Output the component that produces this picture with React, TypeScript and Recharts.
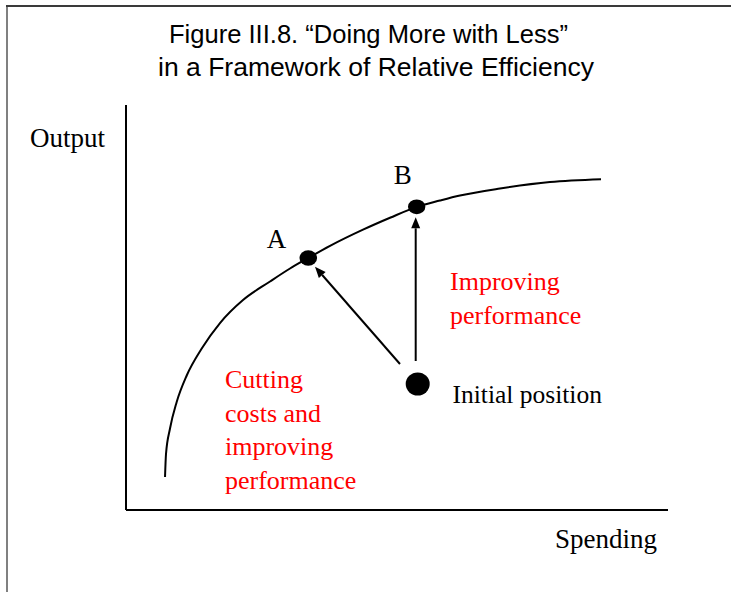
import React from 'react';
import { ComposedChart, Line, XAxis, YAxis, ReferenceLine, ReferenceDot } from 'recharts';

// Frontier curve (Spending -> Output), conceptual 0-100 units
const curveX = [7.2, 7.38, 8.12, 9.35, 11.2, 13.97, 17.34, 21.59, 26.57, 30.26, 33.63, 37.64, 43.73, 48.71, 53.63, 57.93, 61.62, 69.0, 78.23, 87.64];
const curveY = [8.15, 13.83, 20.12, 26.67, 33.21, 39.88, 46.17, 51.85, 56.42, 59.63, 62.22, 65.21, 69.21, 72.15, 74.85, 76.42, 77.65, 79.38, 80.99, 81.68];

// Marked positions
const pointNames = ['A', 'B', 'Initial'];
const pointX = [33.63, 53.63, 53.82];
const pointY = [62.22, 74.85, 31.11];

// Arrows: from (x, y) to (x, y)
const arrowFromX = [50.55, 53.45];
const arrowFromY = [36.05, 36.79];
const arrowToX = [34.87, 53.45];
const arrowToY = [60.07, 72.27];

const titleLines = ['Figure III.8. \u201cDoing More with Less\u201d', 'in a Framework of Relative Efficiency'];
const yAxisLabel = 'Output';
const xAxisLabel = 'Spending';
const redLabelLeft = ['Cutting', 'costs and', 'improving', 'performance'];
const redLabelRight = ['Improving', 'performance'];
const initialLabel = 'Initial position';

const curveData = curveX.map((x, i) => ({ x, y: curveY[i] }));

const dotStyle: Record<string, { rx: number; ry: number; label?: string; dx?: number; dy?: number }> = {
  A: { rx: 8.8, ry: 7.8, label: 'A', dx: -22, dy: -10 },
  B: { rx: 8.7, ry: 7.4, label: 'B', dx: -5, dy: -22.5 },
  Initial: { rx: 12, ry: 11.5 },
};

const SERIF = '"Liberation Serif", "Times New Roman", Times, serif';
const SANS = '"Liberation Sans", Arial, Helvetica, sans-serif';

const arrowShape = (p: any) => {
  const { x1, y1, x2, y2 } = p;
  const dx = x2 - x1;
  const dy = y2 - y1;
  const L = Math.hypot(dx, dy) || 1;
  const ux = dx / L;
  const uy = dy / L;
  const hl = 11;
  const hw = 4.5;
  const bx = x2 - ux * hl;
  const by = y2 - uy * hl;
  const px = -uy;
  const py = ux;
  return (
    <g>
      <line x1={x1} y1={y1} x2={bx} y2={by} stroke="#000" strokeWidth={2} />
      <polygon
        points={`${x2},${y2} ${bx + px * hw},${by + py * hw} ${bx - px * hw},${by - py * hw}`}
        fill="#000"
      />
    </g>
  );
};

const makeDotShape = (name: string) => (p: any) => {
  const s = dotStyle[name];
  const { cx, cy } = p;
  return (
    <g>
      <ellipse cx={cx} cy={cy} rx={s.rx} ry={s.ry} fill="#000" />
      {s.label ? (
        <text
          x={cx + (s.dx || 0)}
          y={cy + (s.dy || 0)}
          textAnchor="end"
          fontFamily={SERIF}
          fontSize={27}
          fill="#000"
        >
          {s.label}
        </text>
      ) : null}
    </g>
  );
};

const lineShape = (p: any) => (
  <line x1={p.x1} y1={p.y1} x2={p.x2} y2={p.y2} stroke="#000" strokeWidth={2} />
);

export default function App() {
  return (
    <div
      style={{
        position: 'absolute',
        left: 0,
        top: 0,
        width: 731,
        height: 592,
        overflow: 'hidden',
        background: '#fff',
      }}
    >
      <div style={{ position: 'absolute', left: 6, top: 5, width: 2, height: 600, background: '#808080' }} />
      <div style={{ position: 'absolute', left: 6, top: 5, width: 740, height: 2, background: '#3a3a3a' }} />
      <div style={{ position: 'absolute', left: 0, top: 0 }}>
        <ComposedChart width={731} height={592} margin={{ top: 105, right: 63, bottom: 82, left: 126 }}>
          <XAxis type="number" dataKey="x" domain={[0, 100]} hide allowDataOverflow />
          <YAxis type="number" dataKey="y" domain={[0, 100]} hide allowDataOverflow />
          <ReferenceLine
            segment={[{ x: 0, y: 0 }, { x: 0, y: 100 }]}
            ifOverflow="visible"
            shape={lineShape}
          />
          <ReferenceLine
            segment={[{ x: 0, y: 0 }, { x: 100, y: 0 }]}
            ifOverflow="visible"
            shape={lineShape}
          />
          <Line
            data={curveData}
            dataKey="y"
            type="monotone"
            stroke="#000"
            strokeWidth={2}
            dot={false}
            activeDot={false}
            isAnimationActive={false}
          />
          {arrowFromX.map((fx, i) => (
            <ReferenceLine
              key={`arrow-${i}`}
              segment={[{ x: fx, y: arrowFromY[i] }, { x: arrowToX[i], y: arrowToY[i] }]}
              ifOverflow="visible"
              shape={arrowShape}
            />
          ))}
          {pointNames.map((n, i) => (
            <ReferenceDot
              key={n}
              x={pointX[i]}
              y={pointY[i]}
              r={10}
              ifOverflow="visible"
              shape={makeDotShape(n)}
            />
          ))}
        </ComposedChart>
      </div>
      <svg width={731} height={592} style={{ position: 'absolute', left: 0, top: 0, pointerEvents: 'none' }}>
        <text x={169} y={43} fontFamily={SANS} fontSize={25.5} fill="#000" textLength={399} lengthAdjust="spacingAndGlyphs">
          {titleLines[0]}
        </text>
        <text x={158} y={76} fontFamily={SANS} fontSize={25.5} fill="#000" textLength={436} lengthAdjust="spacingAndGlyphs">
          {titleLines[1]}
        </text>
        <text x={30} y={147} fontFamily={SERIF} fontSize={27} fill="#000">
          {yAxisLabel}
        </text>
        <text x={555} y={548} fontFamily={SERIF} fontSize={27} fill="#000">
          {xAxisLabel}
        </text>
        <text x={452.5} y={403} fontFamily={SERIF} fontSize={25.5} fill="#000">
          {initialLabel}
        </text>
        {redLabelRight.map((t, i) => (
          <text key={t} x={450} y={289.5 + i * 34} fontFamily={SERIF} fontSize={26} fill="#ff0000">
            {t}
          </text>
        ))}
        {redLabelLeft.map((t, i) => (
          <text key={t} x={225} y={388.3 + i * 33.4} fontFamily={SERIF} fontSize={26} fill="#ff0000">
            {t}
          </text>
        ))}
      </svg>
    </div>
  );
}
